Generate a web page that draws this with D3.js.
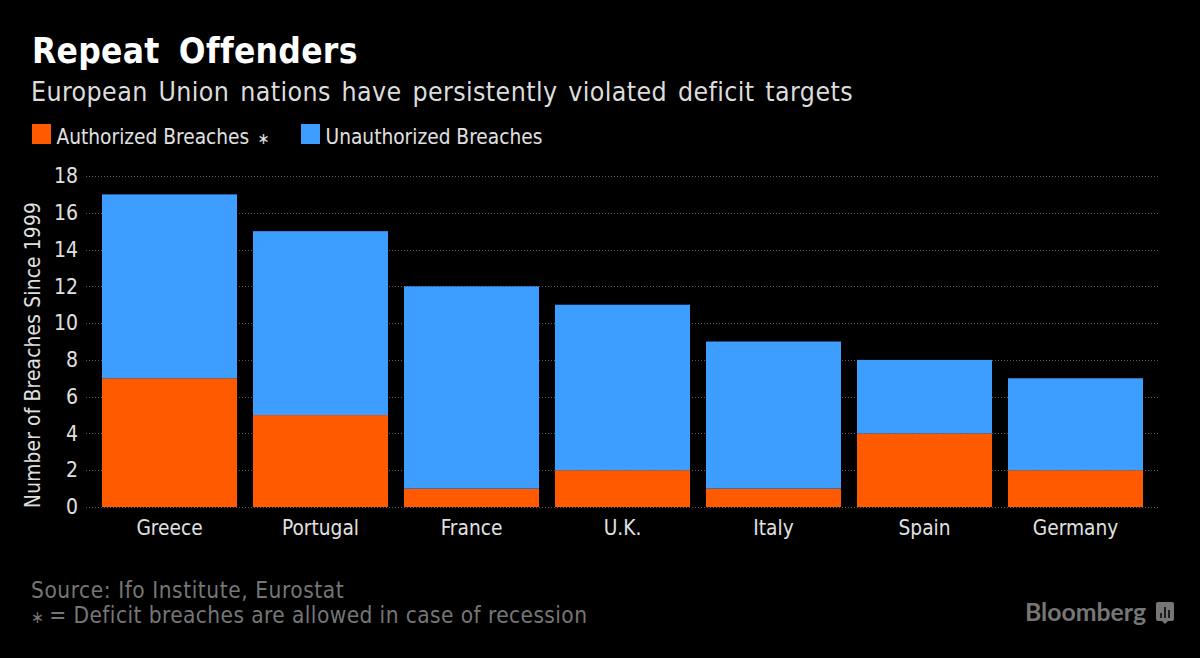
<!DOCTYPE html>
<html lang="en">
<head>
    <meta charset="UTF-8">
    <script src="https://d3js.org/d3.v7.min.js"></script>
    <style>
        html, body { margin: 0; padding: 0; background: #000; overflow: hidden; }
        svg { display: block; }
        text { font-family: "DejaVu Sans Condensed", "DejaVu Sans", sans-serif; }
    </style>
</head>
<body>
    <svg id="chart"></svg>
    <script>
        const countries = ["Greece", "Portugal", "France", "U.K.", "Italy", "Spain", "Germany"];
        const authorized = [7, 5, 1, 2, 1, 4, 2];
        const unauthorized = [10, 10, 11, 9, 8, 4, 5];
        const yTicks = [0, 2, 4, 6, 8, 10, 12, 14, 16, 18];
        const seriesNames = ["Authorized Breaches", "Unauthorized Breaches"];
        const seriesColors = ["#ff5a00", "#3d9eff"];

        const width = 1200, height = 658;
        const svg = d3.select("#chart").attr("width", width).attr("height", height);

        svg.append("rect").attr("width", width).attr("height", height).attr("fill", "#000");

        const x = d3.scaleBand()
            .domain(countries)
            .range([94, 1151])
            .paddingInner(16 / 151)
            .paddingOuter(8 / 151);

        const y = d3.scaleLinear().domain([0, 18]).range([507, 176]);

        const rows = countries.map((c, i) => ({ c, a: authorized[i], u: unauthorized[i] }));
        const stacked = d3.stack().keys(["a", "u"])(rows);

        // gridlines
        svg.append("g").selectAll("line")
            .data(yTicks)
            .enter().append("line")
            .attr("x1", 86).attr("x2", 1159)
            .attr("y1", d => Math.round(y(d)) + 0.5).attr("y2", d => Math.round(y(d)) + 0.5)
            .attr("stroke", "#5a5a5a")
            .attr("stroke-width", 1)
            .attr("stroke-dasharray", "1,2");

        svg.append("g").selectAll("g")
            .data(stacked)
            .enter().append("g")
            .attr("fill", (d, i) => seriesColors[i])
            .selectAll("rect")
            .data(d => d)
            .enter().append("rect")
            .attr("x", d => x(d.data.c))
            .attr("y", d => y(d[1]))
            .attr("width", x.bandwidth())
            .attr("height", d => y(d[0]) - y(d[1]));

        // y axis
        const yAxis = svg.append("g")
            .attr("transform", "translate(78,0)")
            .call(d3.axisLeft(y).tickValues(yTicks).tickSize(0).tickPadding(0));
        yAxis.select(".domain").remove();
        yAxis.selectAll("text")
            .attr("fill", "#e0e0e0")
            .style("font-family", "'DejaVu Sans Condensed', 'DejaVu Sans', sans-serif")
            .style("font-size", "21px");

        // x axis
        const xAxis = svg.append("g")
            .attr("transform", "translate(0,507)")
            .call(d3.axisBottom(x).tickSize(0).tickPadding(13));
        xAxis.select(".domain").remove();
        xAxis.selectAll("text")
            .attr("fill", "#e0e0e0")
            .style("font-family", "'DejaVu Sans Condensed', 'DejaVu Sans', sans-serif")
            .style("font-size", "20.7px");

        svg.append("text")
            .attr("transform", "translate(40,355) rotate(-90)")
            .attr("text-anchor", "middle")
            .attr("fill", "#e0e0e0")
            .style("font-size", "20.7px")
            .style("letter-spacing", "0.2px")
            .text("Number of Breaches Since 1999");

        // titles
        svg.append("text").attr("x", 32).attr("y", 63)
            .attr("fill", "#fff")
            .style("font-size", "35px").style("font-weight", "bold")
            .style("letter-spacing", "0.3px").style("word-spacing", "8px")
            .text("Repeat Offenders");
        svg.append("text").attr("x", 31).attr("y", 101)
            .attr("fill", "#dcdcdc")
            .style("font-size", "26.5px")
            .style("letter-spacing", "0.4px").style("word-spacing", "2.8px")
            .text("European Union nations have persistently violated deficit targets");

        // legend
        const legendX = [32, 301];
        seriesNames.forEach((s, i) => {
            svg.append("rect")
                .attr("x", legendX[i]).attr("y", 124)
                .attr("width", 19).attr("height", 20)
                .attr("fill", seriesColors[i]);
            const label = svg.append("text")
                .attr("x", legendX[i] + 24.5).attr("y", 143.5)
                .attr("fill", "#e0e0e0")
                .style("font-size", "20.7px")
                .text(s);
            if (i === 0) label.append("tspan").attr("dx", 8).style("font-size", "16px").text("\u2217");
        });

        // footer
        svg.append("text").attr("x", 31).attr("y", 598)
            .attr("fill", "#767676").style("font-size", "22.5px")
            .style("letter-spacing", "0.55px")
            .text("Source: Ifo Institute, Eurostat");
        const note = svg.append("text").attr("x", 31).attr("y", 622.5)
            .attr("fill", "#767676").style("font-size", "22.5px")
            .style("letter-spacing", "0.41px");
        note.append("tspan").style("font-size", "17px").text("\u2217");
        note.append("tspan").attr("dx", 5).text("= Deficit breaches are allowed in case of recession");

        // logo
        svg.append("text").attr("x", 1025).attr("y", 621)
            .attr("fill", "#767676")
            .style("font-family", "Lato, sans-serif")
            .style("font-size", "24.8px").style("font-weight", "bold")
            .text("Bloomberg");
        const logo = svg.append("g").attr("transform", "translate(1156,602)");
        logo.append("path")
            .attr("d", "M2,0H16a2,2 0 0 1 2,2V17a2,2 0 0 1 -2,2H12L9,22L6,19H2a2,2 0 0 1 -2,-2V2a2,2 0 0 1 2,-2Z")
            .attr("fill", "#767676");
        logo.append("path")
            .attr("d", "M5,16V11M9,16V5M13,16V8")
            .attr("stroke", "#000").attr("stroke-width", 1.5);
    </script>
</body>
</html>
